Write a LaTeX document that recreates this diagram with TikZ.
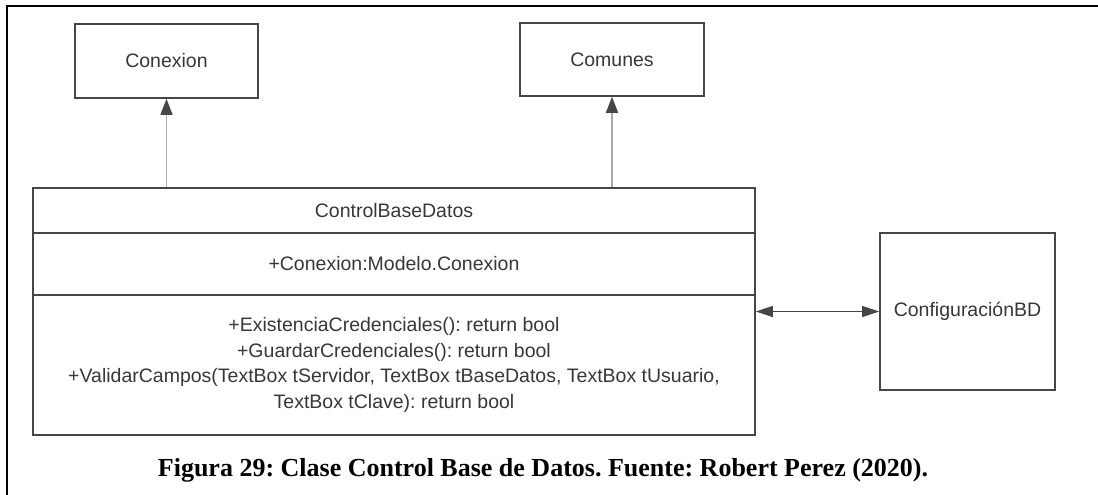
\documentclass[tikz,border=0pt]{standalone}
\usepackage{fontspec}
\setmainfont{Liberation Sans}
\newfontfamily\captionfont{Liberation Serif}
\usetikzlibrary{arrows.meta,positioning}
\definecolor{umlline}{RGB}{70,70,70}
\definecolor{umltext}{RGB}{55,55,55}
\definecolor{umlarrow}{RGB}{170,170,170}
\frenchspacing

\begin{document}
\begin{tikzpicture}[x=1pt, y=-1pt,
    box/.style={rectangle, draw=umlline, line width=1.6pt, text=umltext, inner sep=0pt, align=center, font=\fontsize{19.5}{25.7}\selectfont},
    part/.style={box, minimum width=722pt},
    gen/.style={-{Triangle[length=16pt,width=12pt,color=umlline]}, draw=umlarrow, line width=1.4pt},
    assoc/.style={{Triangle[length=17pt,width=11pt]}-{Triangle[length=17pt,width=11pt]}, draw=umlline, line width=1.2pt}
]
    \useasboundingbox (0,0) rectangle (1098,495);
    \draw[line width=1.5pt] (1098,6) -- (7,6) -- (7,495);

    \node[box, minimum width=183pt, minimum height=74pt] (conexion) at (166.5,61) {Conexion};
    \node[box, minimum width=184pt, minimum height=73pt] (comunes) at (612,59.5) {Comunes};

    \node[part, minimum height=45pt] (title) at (394,210.5) {ControlBaseDatos};
    \node[part, minimum height=62pt] (attrs) at (394,264) {+Conexion:Modelo.Conexion};
    \node[part, minimum height=140pt] (methods) at (394,365) {+ExistenciaCredenciales(): return bool\\+GuardarCredenciales(): return bool\\+ValidarCampos(TextBox tServidor, TextBox tBaseDatos, TextBox tUsuario,\\TextBox tClave): return bool};

    \node[box, minimum width=175pt, minimum height=157pt] (config) at (967.5,311.5) {Configuraci\'onBD};

    \draw[gen] (title.north -| conexion) -- (conexion);
    \draw[gen] (title.north -| comunes) -- (comunes);
    \draw[assoc] (methods.east |- config) -- (config);

    \node[font=\captionfont\bfseries\fontsize{26}{30}\selectfont] (caption) at (543,470) {Figura 29: Clase Control Base de Datos. Fuente: Robert Perez (2020).};
\end{tikzpicture}
\end{document}
